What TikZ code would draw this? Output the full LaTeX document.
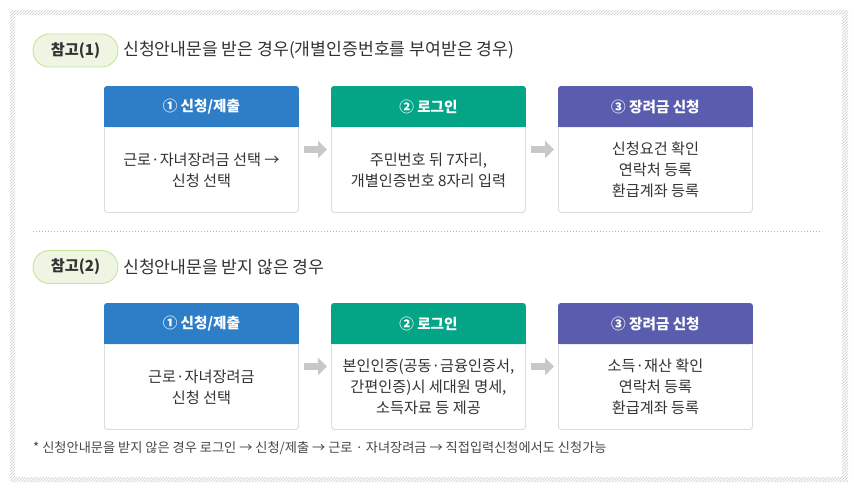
\documentclass[tikz,border=0pt]{standalone}
\usepackage{fontspec}
\setmainfont{Noto Sans CJK KR}
\usetikzlibrary{calc,patterns,arrows.meta}
\definecolor{hblue}{HTML}{2E7DC7}
\definecolor{hgreen}{HTML}{03A586}
\definecolor{hpurple}{HTML}{5A5DAE}
\definecolor{txt}{HTML}{333333}
\definecolor{pillfill}{HTML}{EEF6E3}
\definecolor{pilldraw}{HTML}{C6E39A}
\definecolor{boxdraw}{HTML}{DCDCDC}
\definecolor{arrowgray}{HTML}{C8C8C8}
\tikzset{
  stepbox/.style={draw=boxdraw, line width=0.9pt, fill=white, rounded corners=3pt,
    minimum width=194pt, minimum height=126pt, inner sep=0pt, anchor=north west},
  hdrtext/.style={text=white, font=\bfseries\fontsize{14.6}{16}\selectfont, inner sep=0pt},
  bodytext/.style={text=txt, font=\fontsize{15.2}{21}\selectfont, align=center, inner sep=0pt},
  pill/.style={draw=pilldraw, fill=pillfill, line width=0.9pt, rounded corners=16.5pt,
    minimum width=85pt, minimum height=33pt, inner sep=0pt, text=txt,
    font=\bfseries\fontsize{15.2}{17}\selectfont},
  titletext/.style={text=txt, anchor=west, inner sep=0pt, font=\fontsize{17.2}{20}\selectfont},
  garrow/.style={draw=arrowgray, line width=7pt, -{Triangle[length=9pt,width=17pt]},
    shorten <=5pt, shorten >=4pt},
}
\newcommand{\hdrfill}[2]{%
  \fill[#2, rounded corners=3pt] (#1.north west) rectangle ($(#1.north east)+(0,41)$);
  \fill[#2] ($(#1.north west)+(0,35)$) rectangle ($(#1.north east)+(0,41)$);}
\begin{document}
\begin{tikzpicture}[x=1pt,y=-1pt]
\useasboundingbox (0,0) rectangle (854,488);
\fill[white] (0,0) rectangle (854,488);
% hatched frame
\fill[pattern=north east lines, pattern color=black!20, even odd rule]
  (10,10) rectangle (848,482) (15,15) rectangle (842,477);

% ---- section 1
\node[pill] (p1) at (75.5,50.5) {참고(1)};
\node[titletext] (s1) at (123,50.5) {신청안내문을 받은 경우(개별인증번호를 부여받은 경우)};

\node[stepbox] (b11) at (104,86) {};
\node[stepbox] (b12) at (331,86) {};
\node[stepbox] (b13) at (558,86) {};
\hdrfill{b11}{hblue}
\hdrfill{b12}{hgreen}
\hdrfill{b13}{hpurple}
\node[hdrtext] (h11) at ($(b11.north)+(0,21)$) {① 신청/제출};
\node[hdrtext] (h12) at ($(b12.north)+(0,21)$) {② 로그인};
\node[hdrtext] (h13) at ($(b13.north)+(0,21)$) {③ 장려금 신청};
\node[bodytext] (t11) at ($(b11.south)+(0,-43)$) {근로·자녀장려금 선택 →\\신청 선택};
\node[bodytext] (t12) at ($(b12.south)+(0,-43)$) {주민번호 뒤 7자리,\\개별인증번호 8자리 입력};
\node[bodytext] (t13) at ($(b13.south)+(0,-43)$) {신청요건 확인\\연락처 등록\\환급계좌 등록};
\draw[garrow] (b11) -- (b12);
\draw[garrow] (b12) -- (b13);

% separator
\coordinate (sepL) at (33,231);
\coordinate (sepR) at (822,231);
\draw[black!30, line width=0.8pt, dash pattern=on 1pt off 2pt] (sepL) -- (sepR);

% ---- section 2
\node[pill] (p2) at (75.5,267) {참고(2)};
\node[titletext] (s2) at (123,267) {신청안내문을 받지 않은 경우};

\node[stepbox] (b21) at (104,303) {};
\node[stepbox] (b22) at (331,303) {};
\node[stepbox] (b23) at (558,303) {};
\hdrfill{b21}{hblue}
\hdrfill{b22}{hgreen}
\hdrfill{b23}{hpurple}
\node[hdrtext] (h21) at ($(b21.north)+(0,21)$) {① 신청/제출};
\node[hdrtext] (h22) at ($(b22.north)+(0,21)$) {② 로그인};
\node[hdrtext] (h23) at ($(b23.north)+(0,21)$) {③ 장려금 신청};
\node[bodytext] (t21) at ($(b21.south)+(0,-43)$) {근로·자녀장려금\\신청 선택};
\node[bodytext] (t22) at ($(b22.south)+(0,-43)$) {본인인증(공동·금융인증서,\\간편인증)시 세대원 명세,\\소득자료 등 제공};
\node[bodytext] (t23) at ($(b23.south)+(0,-43)$) {소득·재산 확인\\연락처 등록\\환급계좌 등록};
\draw[garrow] (b21) -- (b22);
\draw[garrow] (b22) -- (b23);

% footnote
\node[anchor=west, inner sep=0pt, text=txt!90, font=\fontsize{13.2}{15}\selectfont] (fn) at (33,448)
  {* 신청안내문을 받지 않은 경우 로그인 → 신청/제출 → 근로 · 자녀장려금 → 직접입력신청에서도 신청가능};
\end{tikzpicture}
\end{document}
